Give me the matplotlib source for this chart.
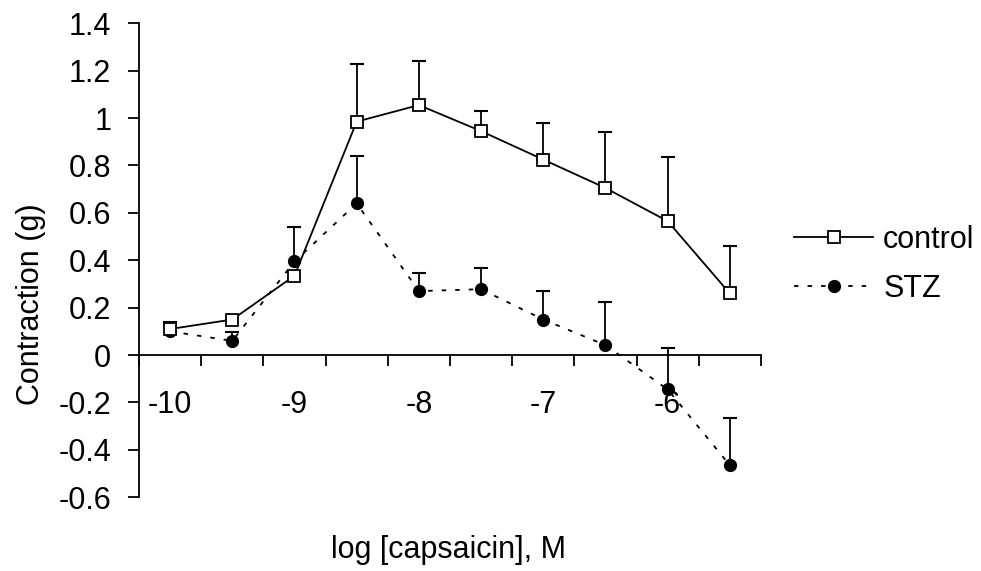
import numpy as np
import matplotlib
matplotlib.use("Agg")
import matplotlib.pyplot as plt

# log [capsaicin] categories (M)
doses = [-10, -9.5, -9, -8.5, -8, -7.5, -7, -6.5, -6, -5.5]
dose_labels = ["-10", "-9", "-8", "-7", "-6"]

# contraction (g), mean and upper error
control = [0.11, 0.15, 0.335, 0.985, 1.055, 0.945, 0.825, 0.705, 0.565, 0.26]
control_err = [0.03, 0.0, 0.0, 0.245, 0.185, 0.085, 0.155, 0.235, 0.27, 0.20]
stz = [0.10, 0.06, 0.395, 0.64, 0.27, 0.278, 0.15, 0.042, -0.145, -0.465]
stz_err = [0.025, 0.038, 0.145, 0.20, 0.075, 0.09, 0.12, 0.183, 0.177, 0.20]

y_ticks = [-0.6, -0.4, -0.2, 0, 0.2, 0.4, 0.6, 0.8, 1, 1.2, 1.4]

plt.rcParams["font.family"] = ["Liberation Sans", "DejaVu Sans"]
FS = 22

fig = plt.figure(figsize=(9.81, 5.71), dpi=100)
ax = fig.add_axes([0.1417, 0.1291, 0.6340, 0.8301])

x = np.arange(len(doses))


def draw_errors(vals, errs):
    for xi, v, e in zip(x, vals, errs):
        if e <= 0:
            continue
        ax.plot([xi, xi], [v, v + e], color="black", lw=1.3, zorder=2)
        ax.plot([xi], [v + e], marker="_", color="black", ms=10, mew=1.5, zorder=2)


draw_errors(control, control_err)
draw_errors(stz, stz_err)

ax.plot(x, stz, color="black", lw=1.3, linestyle=(0, (2.5, 5)),
        marker="o", ms=8.5, mfc="black", mec="black", label="STZ", zorder=3)
ax.plot(x, control, color="black", lw=1.3, linestyle="-",
        marker="s", ms=8, mfc="white", mec="black", mew=1.3, label="control", zorder=4)

ax.set_xlim(-0.5, len(doses) - 0.5)
ax.set_ylim(-0.6, 1.4)

for side in ["top", "right"]:
    ax.spines[side].set_visible(False)
ax.spines["bottom"].set_position(("data", 0))
ax.spines["left"].set_linewidth(1.3)
ax.spines["bottom"].set_linewidth(1.3)

ax.set_yticks(y_ticks)
ax.set_yticklabels([f"{t:g}" for t in y_ticks], fontsize=FS)
ax.tick_params(axis="y", direction="out", length=8, width=1.3, pad=12)

# category boundaries as major ticks, labels on every other category
ax.set_xticks(np.arange(len(doses) + 1) - 0.5)
ax.set_xticklabels([])
ax.tick_params(axis="x", which="major", direction="out", length=8, width=1.3)
lab_pos = [doses.index(float(l)) for l in dose_labels]
ax.set_xticks(lab_pos, minor=True)
ax.set_xticklabels(dose_labels, minor=True, fontsize=FS)
ax.tick_params(axis="x", which="minor", length=0, pad=25)

fig.text(0.0316, 0.468, "Contraction (g)", rotation=90, ha="center", va="center", fontsize=FS)
fig.text(0.4567, 0.037, "log [capsaicin], M", ha="center", va="center", fontsize=FS)

handles, labels = ax.get_legend_handles_labels()
fig.legend(handles[::-1], labels[::-1], loc="upper left", bbox_to_anchor=(0.8094, 0.606),
           frameon=False, fontsize=FS, handlelength=2.59, handletextpad=0.33,
           labelspacing=0.61, borderpad=0, borderaxespad=0)

fig.savefig("out.png", dpi=100)
